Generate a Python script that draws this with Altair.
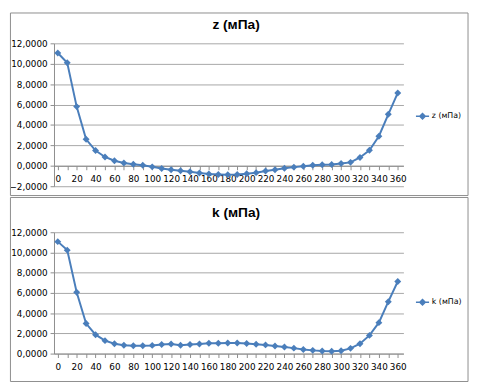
import altair as alt
import pandas as pd

angles = [0, 10, 20, 30, 40, 50, 60, 70, 80, 90, 100, 110, 120, 130, 140, 150, 160, 170, 180,
          190, 200, 210, 220, 230, 240, 250, 260, 270, 280, 290, 300, 310, 320, 330, 340, 350, 360]
z_vals = [11.05, 10.09, 5.8, 2.6, 1.5, 0.87, 0.5, 0.28, 0.15, 0.05, -0.1, -0.26, -0.38, -0.48,
          -0.58, -0.7, -0.8, -0.85, -0.88, -0.85, -0.78, -0.67, -0.5, -0.38, -0.23, -0.13, -0.04,
          0.06, 0.1, 0.13, 0.22, 0.34, 0.82, 1.52, 2.9, 5.05, 7.14]
k_vals = [11.07, 10.23, 6.07, 2.97, 1.87, 1.28, 0.97, 0.82, 0.77, 0.78, 0.81, 0.9, 0.95, 0.82,
          0.9, 0.95, 1.02, 1.02, 1.04, 1.04, 1.0, 0.93, 0.86, 0.76, 0.65, 0.54, 0.41, 0.32, 0.26,
          0.24, 0.28, 0.52, 0.98, 1.8, 3.06, 5.13, 7.13]
z_name = "z (мПа)"
k_name = "k (мПа)"
z_ticks = [-2, 0, 2, 4, 6, 8, 10, 12]
k_ticks = [0, 2, 4, 6, 8, 10, 12]

BLUE = "#4A7EBB"
GRID = "#a6a6a6"
BORDER = "#8c8c8c"
PLOT_W = 357
LEGEND_PATH = "M-1,0L1,0M0,-0.42L0.42,0L0,0.42L-0.42,0Z"


def panel(values, name, ydomain, yticks, height, axis_offset, legend_y, rect_y, rect_y2, title_y):
    df = pd.DataFrame({"angle": angles, "value": values, "series": [name] * len(angles)})
    xscale = alt.Scale(domain=[-4, 366], nice=False, zero=False)
    yscale = alt.Scale(domain=ydomain, nice=False, zero=False)
    xaxis = alt.Axis(
        values=angles, title=None, grid=False, offset=axis_offset,
        labelExpr="datum.value % 20 === 0 ? datum.label : ''",
        labelOverlap=False, labelFont="DejaVu Sans", labelFontSize=9,
        labelColor="#000000", labelPadding=5, tickSize=4, tickColor=BORDER,
        domainColor=BORDER, labelFlush=False,
    )
    yaxis = alt.Axis(
        values=yticks, title=None, grid=True, gridColor=GRID,
        labelExpr="replace(format(datum.value, '.4f'), '.', ',')",
        labelOverlap=False, labelFont="DejaVu Sans", labelFontSize=9, labelColor="#000000",
        labelPadding=3, tickSize=4, tickColor=BORDER, domainColor=BORDER,
    )
    base = alt.Chart(df).encode(
        x=alt.X("angle:Q", scale=xscale, axis=xaxis),
        y=alt.Y("value:Q", scale=yscale, axis=yaxis),
    )
    line = base.mark_line(strokeWidth=2).encode(
        color=alt.Color(
            "series:N",
            scale=alt.Scale(domain=[name], range=[BLUE]),
            legend=alt.Legend(
                title=None, orient="none", legendX=369, legendY=legend_y,
                symbolType=LEGEND_PATH, symbolSize=180, symbolStrokeWidth=1.5,
                symbolFillColor=BLUE, symbolStrokeColor=BLUE,
                labelFont="DejaVu Sans", labelFontSize=8, labelColor="#000000",
                labelOffset=2, padding=0,
            ),
        ),
    )
    pts = base.mark_point(shape="diamond", filled=True, size=50, opacity=1, color=BLUE)
    border = alt.Chart(alt.Data(values=[{}])).mark_rect(
        fill=None, stroke=BORDER, strokeWidth=1
    ).encode(
        x=alt.value(-44.5), x2=alt.value(423), y=alt.value(rect_y), y2=alt.value(rect_y2)
    )
    title = alt.Chart(alt.Data(values=[{"t": name}])).mark_text(
        font="Liberation Sans", fontSize=14, fontWeight="bold", color="#000000",
        align="center", baseline="middle",
    ).encode(x=alt.value(186), y=alt.value(title_y), text="t:N")
    return alt.layer(border, title, line, pts).properties(width=PLOT_W, height=height)


top = panel(z_vals, z_name, [-2, 12], z_ticks, 146, -146 * 2 / 14, 67, -31, 155.5, -19)
bottom = panel(k_vals, k_name, [0, 12], k_ticks, 124, 0, 64, -35.5, 152.5, -20)

chart = alt.vconcat(top, bottom, spacing=47, bounds="flush").resolve_scale(
    color="independent", x="independent", y="independent"
).properties(padding=0).configure_view(stroke=None)

chart.save("out.html", embed_options={"renderer": "svg", "actions": False})
